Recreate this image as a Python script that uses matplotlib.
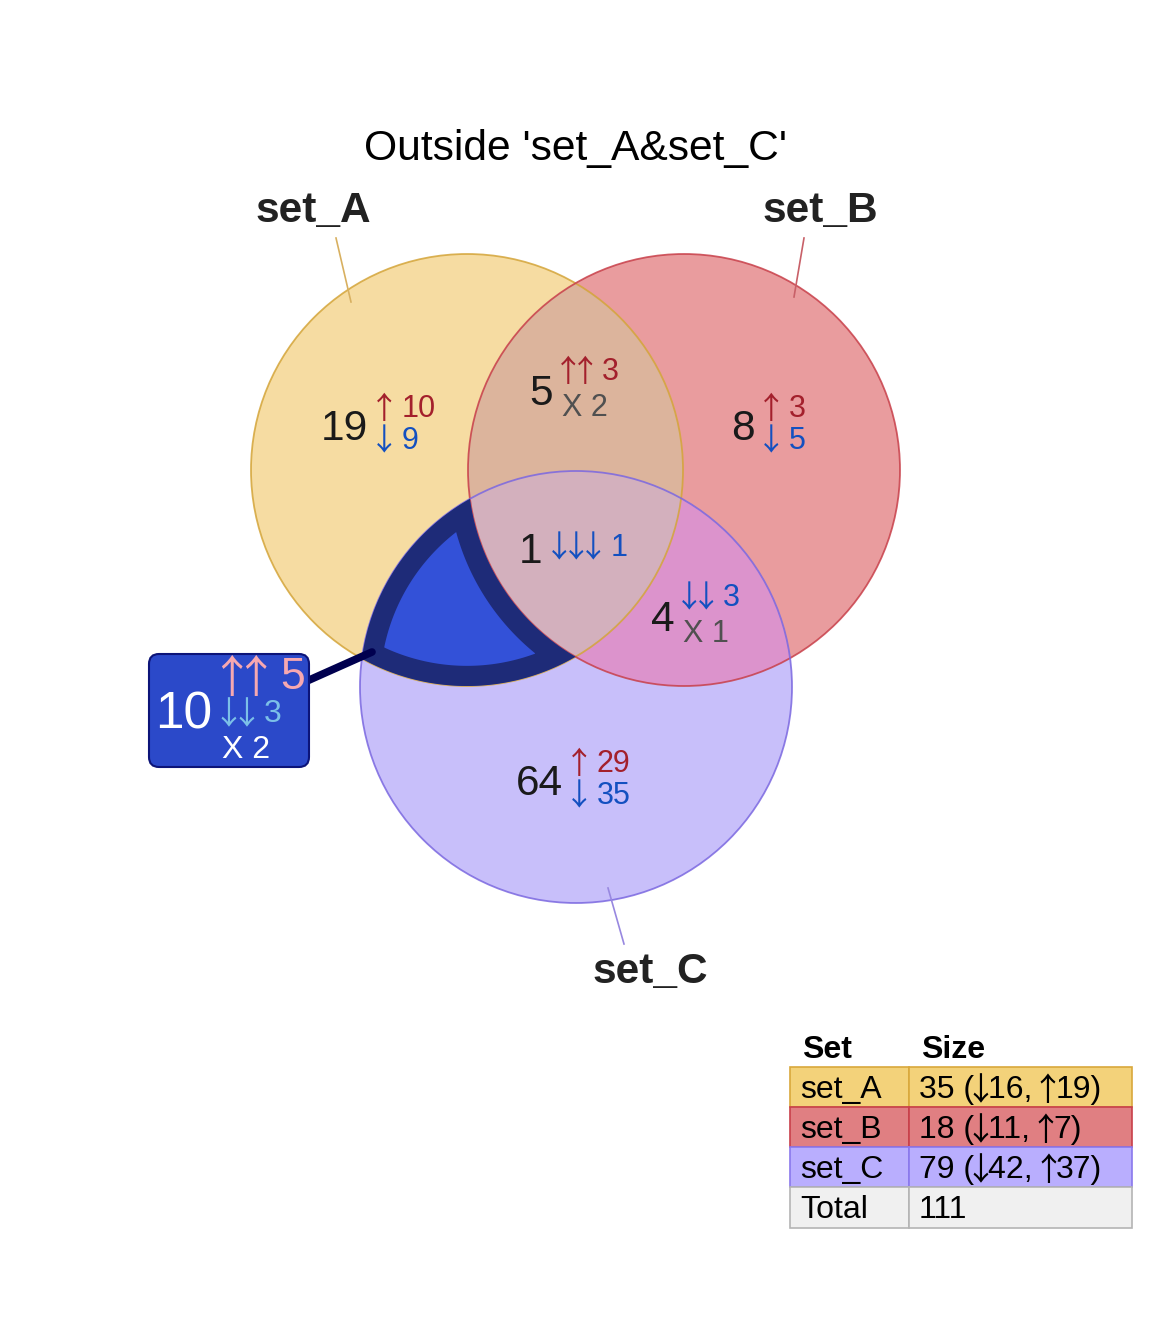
import numpy as np
import matplotlib
matplotlib.use("Agg")
import matplotlib.pyplot as plt
from matplotlib.patches import Circle, Polygon, FancyBboxPatch, Rectangle
from matplotlib.font_manager import FontProperties

plt.rcParams['font.family'] = ['Liberation Sans', 'DejaVu Sans']
ARROW_FONT = ['Noto Sans CJK SC', 'DejaVu Sans']
UP, DOWN = '\u2191', '\u2193'

# ---- data ----
title = "Outside 'set_A&set_C'"
set_names = ['set_A', 'set_B', 'set_C']
set_sizes = [35, 18, 79]
set_down = [16, 11, 42]
set_up = [19, 7, 37]

region_keys = ['A', 'B', 'C', 'AB', 'AC', 'BC', 'ABC']
region_total = [19, 8, 64, 5, 10, 4, 1]
region_up = [10, 3, 29, 3, 5, 0, 0]
region_down = [9, 5, 35, 0, 3, 3, 1]
region_mixed = [0, 0, 0, 2, 2, 1, 0]
highlight = 'AC'

# ---- layout / style ----
W, H = 1152, 1344
centers = {'A': (467, 470), 'B': (684, 470), 'C': (576, 687)}
R = 216
fill = {'A': '#f6dca2', 'B': '#e99c9e', 'C': '#c8bffa',
        'AB': '#dcb49c', 'BC': '#dc93cc', 'ABC': '#d3b0bd'}
edge = {'A': '#d4a53a', 'B': '#c8404a', 'C': '#7b68e0'}
leader = {'A': '#d8b060', 'B': '#c86068', 'C': '#9888e0'}
set_label_pos = {'A': (313, 222), 'B': (820, 222), 'C': (650, 983)}
leader_lines = {'A': ((336, 238), (351, 302)), 'B': ((804, 238), (794, 297)),
                'C': ((608, 888), (624, 944))}
# (right edge of the count, vertical centre of the count, gap to arrows)
anchor = {'A': (368, 425, 10), 'B': (755, 425, 10), 'C': (563, 780, 10),
          'AB': (553, 390, 9), 'BC': (675, 616, 8), 'ABC': (542, 548, 11),
          'AC': (212, 710, 10)}
table_x = [790, 909, 1132]
table_y = [1030, 1067, 1107, 1147, 1187, 1228]
table_fc = ['#f3d27a', '#e07f82', '#b9aefe', '#f0f0f0']
table_ec = ['#d9a83c', '#c8404a', '#8a78ec', '#b4b4b4']


def em(size):
    return size * 100 / 72


def intersections(k1, k2):
    p, q = np.array(centers[k1], float), np.array(centers[k2], float)
    d = np.linalg.norm(q - p)
    u = (q - p) / d
    h = np.sqrt(R ** 2 - (d / 2) ** 2)
    mid = (p + q) / 2
    perp = np.array([-u[1], u[0]])
    return mid + h * perp, mid - h * perp


def pick(pts, key, want_inside):
    c = np.array(centers[key], float)
    for p in pts:
        if (np.linalg.norm(p - c) < R) == want_inside:
            return p


def arc(key, p0, p1, n=120):
    c = np.array(centers[key], float)
    a0 = np.arctan2(p0[1] - c[1], p0[0] - c[0])
    a1 = np.arctan2(p1[1] - c[1], p1[0] - c[0])
    diff = (a1 - a0 + np.pi) % (2 * np.pi) - np.pi
    t = np.linspace(a0, a0 + diff, n)
    return np.column_stack([c[0] + R * np.cos(t), c[1] + R * np.sin(t)])


fig = plt.figure(figsize=(W / 100, H / 100), dpi=100)
ax = fig.add_axes([0, 0, 1, 1])
ax.set_xlim(0, W)
ax.set_ylim(H, 0)
ax.axis('off')
renderer = fig.canvas.get_renderer()


def text_adv(s, size, weight='normal'):
    fp = FontProperties(family='Liberation Sans', size=size, weight=weight)
    w1 = renderer.get_text_width_height_descent('|' + s + '|', fp, ismath=False)[0]
    w0 = renderer.get_text_width_height_descent('||', fp, ismath=False)[0]
    return w1 - w0


def draw_arrow(xc, base, ch, size, color, z):
    # full-width glyph: its ink sits in the middle of a 1 em advance
    ax.text(xc - 0.5 * em(size), base + 0.06 * em(size), ch, ha='left', va='baseline',
            fontsize=size, family=ARROW_FONT, color=color, zorder=z)


# single-set fills
for k in 'ABC':
    ax.add_patch(Circle(centers[k], R, fc=fill[k], ec='none', zorder=1))

# pairwise lenses via clipping
for inner, outer, key in [('B', 'A', 'AB'), ('C', 'B', 'BC')]:
    clip = Circle(centers[outer], R, transform=ax.transData)
    p = Circle(centers[inner], R, fc=fill[key], ec='none', zorder=2)
    ax.add_patch(p)
    p.set_clip_path(clip)

ac_out = pick(intersections('A', 'C'), 'B', False)
ac_in = pick(intersections('A', 'C'), 'B', True)
bc_inA = pick(intersections('B', 'C'), 'A', True)
ab_inC = pick(intersections('A', 'B'), 'C', True)

abc_pts = np.vstack([arc('C', bc_inA, ac_in), arc('A', ac_in, ab_inC), arc('B', ab_inC, bc_inA)])
ax.add_patch(Polygon(abc_pts, closed=True, fc=fill['ABC'], ec='none', zorder=3))

# circle outlines
for k in 'ABC':
    ax.add_patch(Circle(centers[k], R, fc='none', ec=edge[k], lw=1.3, alpha=0.85, zorder=4))

# highlighted region: A & C only
hl_pts = np.vstack([arc('C', ac_out, bc_inA), arc('B', bc_inA, ab_inC), arc('A', ab_inC, ac_out)])
hl = Polygon(hl_pts, closed=True, fc='#3351d8', ec='#1e2b78', lw=29, zorder=5)
ax.add_patch(hl)
hl.set_clip_path(hl)

# set labels and leader lines
for k, name in zip('ABC', set_names):
    (x0, y0), (x1, y1) = leader_lines[k]
    ax.plot([x0, x1], [y0, y1], color=leader[k], lw=1.2, zorder=6)
    x, y = set_label_pos[k]
    ax.text(x, y, name, ha='center', va='baseline', fontsize=30.5, fontweight='bold',
            color='#222222', zorder=7)

ax.text(W / 2, 160, title, ha='center', va='baseline', fontsize=30.7, color='black', zorder=7)


def region_label(key, total, up, down, mixed, callout=False, z=8):
    n = len(key)
    x, y, gap = anchor[key]
    if callout:
        cols = {'count': 'white', 'up': '#f7a8b0', 'down': '#7cc0e8', 'mixed': 'white'}
        csize, sizes, sp_arrow, sp_mixed, shift = 37, [32, 23, 23], 38, 36, 0
    else:
        cols = {'count': '#1a1a1a', 'up': '#a3202c', 'down': '#1350c0', 'mixed': '#505050'}
        csize, sizes, sp_arrow, sp_mixed, shift = 30.5, [22, 22, 22], 32, 36.5, -3
    ax.text(x, y + 0.358 * em(csize), str(total), ha='right', va='baseline',
            fontsize=csize, color=cols['count'], zorder=z)
    lines = []
    if up:
        lines.append((UP, str(up), cols['up']))
    if down:
        lines.append((DOWN, str(down), cols['down']))
    if mixed:
        lines.append((None, 'X ' + str(mixed), cols['mixed']))
    offs = [0.0]
    for ln in lines[1:]:
        offs.append(offs[-1] + (sp_mixed if ln[0] is None else sp_arrow))
    mid = (offs[0] + offs[-1]) / 2
    x0 = x + gap
    for i, (ch, txt, col) in enumerate(lines):
        fs = sizes[i]
        e = em(fs)
        base = y + shift + offs[i] - mid + 0.358 * e
        nx = x0
        if ch is not None:
            for j in range(n):
                draw_arrow(x0 + 0.2 * e + j * 0.55 * e, base, ch, fs, col, z)
            nx = x0 + 0.2 * e + (n - 1) * 0.55 * e + 0.57 * e
        ax.text(nx, base, txt, ha='left', va='baseline', fontsize=fs, color=col, zorder=z)


for key, t, u, d, m in zip(region_keys, region_total, region_up, region_down, region_mixed):
    if key != highlight:
        region_label(key, t, u, d, m)

# callout for the highlighted region
ax.plot([372, 307], [652, 681], color='#00004f', lw=5.5, solid_capstyle='round', zorder=9)
ax.add_patch(FancyBboxPatch((149, 654), 160, 113, boxstyle='round,pad=0,rounding_size=10',
                            fc='#2b49c9', ec='#0c1478', lw=1.5, zorder=10))
i = region_keys.index(highlight)
region_label(highlight, region_total[i], region_up[i], region_down[i], region_mixed[i],
             callout=True, z=11)

# size table
TS = 23
te = em(TS)
for j, head in enumerate(['Set', 'Size']):
    ax.text(table_x[j] + 12, 1058, head, ha='left', va='baseline',
            fontsize=TS, fontweight='bold', color='black', zorder=7)

rows = [(n, [f"{s} (", (DOWN,), f"{d}, ", (UP,), f"{u})"])
        for n, s, d, u in zip(set_names, set_sizes, set_down, set_up)]
rows.append(('Total', [str(sum(region_total))]))
for r, (name, parts) in enumerate(rows):
    top, bot = table_y[r + 1], table_y[r + 2]
    for j in range(2):
        ax.add_patch(Rectangle((table_x[j], top), table_x[j + 1] - table_x[j], bot - top,
                               fc=table_fc[r], ec=table_ec[r], lw=1.2, zorder=6 + r * 0.01))
    base = top + 31
    ax.text(table_x[0] + 10, base, name, ha='left', va='baseline', fontsize=TS,
            color='black', zorder=7)
    x = table_x[1] + 10
    for part in parts:
        if isinstance(part, tuple):
            draw_arrow(x + 0.2 * te, base, part[0], TS, 'black', 7)
            x += 0.44 * te
        else:
            ax.text(x, base, part, ha='left', va='baseline', fontsize=TS, color='black', zorder=7)
            x += text_adv(part, TS)

fig.savefig('out.png', dpi=100)
